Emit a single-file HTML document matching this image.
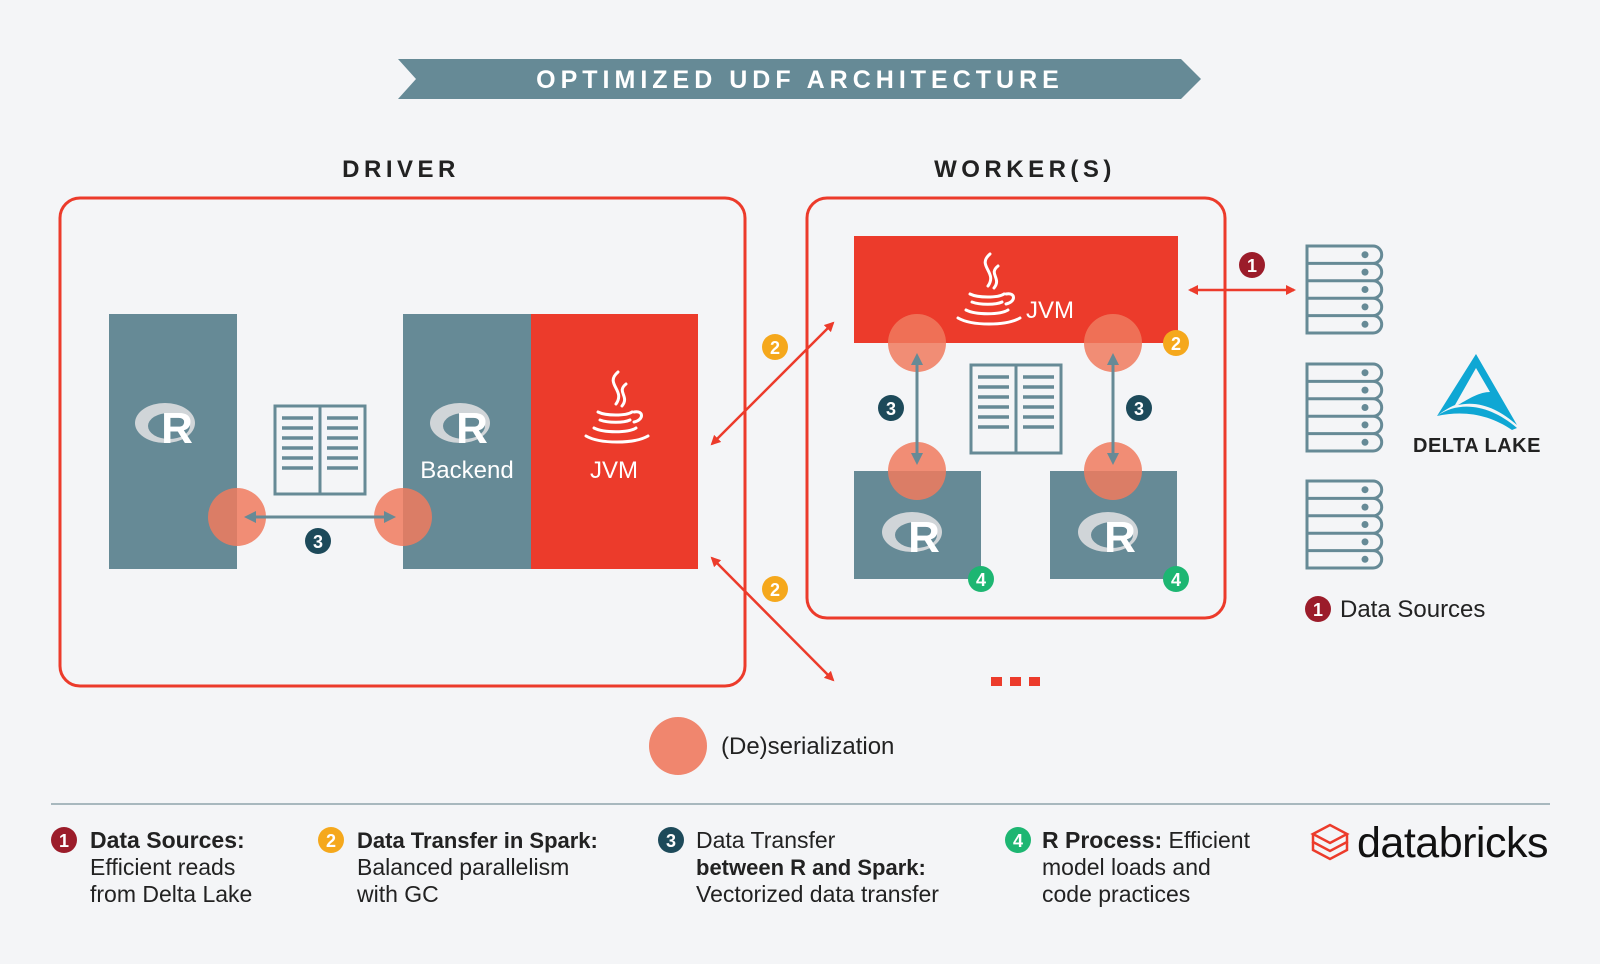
<!DOCTYPE html>
<html><head><meta charset="utf-8"><style>
html,body{margin:0;padding:0;background:#f4f5f7;}
svg{display:block;font-family:"Liberation Sans",sans-serif;}
</style></head><body>
<svg width="1600" height="964" viewBox="0 0 1600 964" xmlns="http://www.w3.org/2000/svg">
<defs>
<marker id="ar" markerWidth="10" markerHeight="10" refX="8" refY="5" orient="auto-start-reverse" markerUnits="userSpaceOnUse"><path d="M0,0 L10,5 L0,10 z" fill="#ec3b2b"/></marker>
<marker id="as" markerWidth="12" markerHeight="12" refX="9" refY="6" orient="auto-start-reverse" markerUnits="userSpaceOnUse"><path d="M0,0 L12,6 L0,12 z" fill="#668a96"/></marker>
<g id="srv" fill="none" stroke="#668a96" stroke-width="3">
<path d="M0,0 H66 a8.7,8.7 0 0 1 0,17.4 a8.7,8.7 0 0 1 0,17.4 a8.7,8.7 0 0 1 0,17.4 a8.7,8.7 0 0 1 0,17.4 a8.7,8.7 0 0 1 0,17.4 H0 Z"/>
<path d="M0,17.4 H66 M0,34.8 H66 M0,52.2 H66 M0,69.6 H66"/>
<g fill="#668a96" stroke="none"><circle cx="58" cy="8.7" r="3.5"/><circle cx="58" cy="26.1" r="3.5"/><circle cx="58" cy="43.5" r="3.5"/><circle cx="58" cy="60.9" r="3.5"/><circle cx="58" cy="78.3" r="3.5"/></g>
</g>
<g id="doc" fill="none" stroke="#668a96" stroke-width="3">
<rect x="0" y="0" width="90" height="88"/><line x1="45" y1="0" x2="45" y2="88"/>
<path d="M7,12H38M7,22H38M7,32H38M7,42H38M7,52H38M7,62H38M52,12H83M52,22H83M52,32H83M52,42H83M52,52H83M52,62H83" stroke-width="3.5"/>
</g>
<g id="rlogo">
<ellipse cx="0" cy="0" rx="30" ry="20" fill="#d0d5d8"/><ellipse cx="4" cy="3" rx="21" ry="13" fill="#668a96"/>
<text x="12" y="20" font-size="44" font-weight="bold" fill="#fff" text-anchor="middle">R</text>
</g>
<g id="java" fill="none" stroke="#fff" stroke-width="3" stroke-linecap="round">
<path d="M6,-48 c-14,12 8,18 -2,32 M14,-36 c-10,8 4,12 -4,22"/>
<path d="M-14,-8 c8,4 28,4 34,0 M-12,0 c8,3 24,3 30,0 M-18,8 c10,5 34,5 42,0 M22,-8 c10,-2 10,8 0,10"/>
<path d="M-26,16 c14,8 48,8 62,0"/>
</g>
</defs>

<polygon points="398,59 1181,59 1201,79 1181,99 398,99 416,79" fill="#668a96"/>
<text x="800" y="88" font-size="25" font-weight="bold" fill="#fff" text-anchor="middle" letter-spacing="5">OPTIMIZED UDF ARCHITECTURE</text>

<text x="401" y="177" font-size="24" font-weight="bold" fill="#222" text-anchor="middle" letter-spacing="4.5">DRIVER</text>
<text x="1025" y="177" font-size="24" font-weight="bold" fill="#222" text-anchor="middle" letter-spacing="4.5">WORKER(S)</text>

<rect x="60" y="198" width="685" height="488" rx="20" fill="none" stroke="#ec3b2b" stroke-width="3"/>
<rect x="109" y="314" width="128" height="255" fill="#668a96"/>
<use href="#rlogo" x="165" y="423"/>
<rect x="403" y="314" width="128" height="255" fill="#668a96"/>
<rect x="531" y="314" width="167" height="255" fill="#ec3b2b"/>
<use href="#rlogo" x="460" y="423"/>
<text x="467" y="478" font-size="24" fill="#fff" text-anchor="middle">Backend</text>
<use href="#java" x="612" y="420"/>
<text x="614" y="478" font-size="24" fill="#fff" text-anchor="middle">JVM</text>
<use href="#doc" x="275" y="406"/>
<circle cx="237" cy="517" r="29" fill="#f07a5e" opacity="0.85"/>
<circle cx="403" cy="517" r="29" fill="#f07a5e" opacity="0.85"/>
<line x1="247" y1="517" x2="393" y2="517" stroke="#668a96" stroke-width="3" marker-start="url(#as)" marker-end="url(#as)"/>
<circle cx="318" cy="541" r="13" fill="#1d4a5a"/><text x="318" y="548" font-size="18" font-weight="bold" fill="#fff" text-anchor="middle">3</text>

<rect x="807" y="198" width="418" height="420" rx="20" fill="none" stroke="#ec3b2b" stroke-width="3"/>
<rect x="854" y="236" width="324" height="107" fill="#ec3b2b"/>
<use href="#java" x="984" y="302"/>
<text x="1050" y="318" font-size="24" fill="#fff" text-anchor="middle">JVM</text>
<rect x="854" y="471" width="127" height="108" fill="#668a96"/>
<rect x="1050" y="471" width="127" height="108" fill="#668a96"/>
<use href="#rlogo" x="912" y="532"/>
<use href="#rlogo" x="1108" y="532"/>
<use href="#doc" x="971" y="365"/>
<circle cx="917" cy="343" r="29" fill="#f07a5e" opacity="0.85"/>
<circle cx="1113" cy="343" r="29" fill="#f07a5e" opacity="0.85"/>
<circle cx="917" cy="471" r="29" fill="#f07a5e" opacity="0.85"/>
<circle cx="1113" cy="471" r="29" fill="#f07a5e" opacity="0.85"/>
<line x1="917" y1="356" x2="917" y2="462" stroke="#668a96" stroke-width="3" marker-start="url(#as)" marker-end="url(#as)"/>
<line x1="1113" y1="356" x2="1113" y2="462" stroke="#668a96" stroke-width="3" marker-start="url(#as)" marker-end="url(#as)"/>
<circle cx="891" cy="408" r="13" fill="#1d4a5a"/><text x="891" y="415" font-size="18" font-weight="bold" fill="#fff" text-anchor="middle">3</text>
<circle cx="1139" cy="408" r="13" fill="#1d4a5a"/><text x="1139" y="415" font-size="18" font-weight="bold" fill="#fff" text-anchor="middle">3</text>
<circle cx="1176" cy="343" r="13" fill="#f5a81c"/><text x="1176" y="350" font-size="18" font-weight="bold" fill="#fff" text-anchor="middle">2</text>
<circle cx="981" cy="579" r="13" fill="#1db672"/><text x="981" y="586" font-size="18" font-weight="bold" fill="#fff" text-anchor="middle">4</text>
<circle cx="1176" cy="579" r="13" fill="#1db672"/><text x="1176" y="586" font-size="18" font-weight="bold" fill="#fff" text-anchor="middle">4</text>

<line x1="712" y1="444" x2="833" y2="323" stroke="#ec3b2b" stroke-width="2.5" marker-start="url(#ar)" marker-end="url(#ar)"/>
<line x1="712" y1="558" x2="833" y2="680" stroke="#ec3b2b" stroke-width="2.5" marker-start="url(#ar)" marker-end="url(#ar)"/>
<circle cx="775" cy="347" r="13" fill="#f5a81c"/><text x="775" y="354" font-size="18" font-weight="bold" fill="#fff" text-anchor="middle">2</text>
<circle cx="775" cy="589" r="13" fill="#f5a81c"/><text x="775" y="596" font-size="18" font-weight="bold" fill="#fff" text-anchor="middle">2</text>
<rect x="991" y="677" width="11" height="9" fill="#ec3b2b"/><rect x="1010" y="677" width="11" height="9" fill="#ec3b2b"/><rect x="1029" y="677" width="11" height="9" fill="#ec3b2b"/>

<line x1="1190" y1="290" x2="1294" y2="290" stroke="#ec3b2b" stroke-width="2.5" marker-start="url(#ar)" marker-end="url(#ar)"/>
<circle cx="1252" cy="265" r="13" fill="#9b1c2a"/><text x="1252" y="272" font-size="18" font-weight="bold" fill="#fff" text-anchor="middle">1</text>
<use href="#srv" x="1307" y="246"/>
<use href="#srv" x="1307" y="364"/>
<use href="#srv" x="1307" y="481"/>
<path d="M1476,354 L1517,425 C1500,410 1480,400 1458,405 C1470,398 1480,392 1490,392 L1476,368 L1455,405 C1448,408 1442,412 1437,416 Z" fill="#0fa7d4"/>
<path d="M1437,416 C1460,400 1490,405 1517,428 L1512,430 C1490,415 1465,410 1437,416 Z" fill="#0fa7d4"/>
<text x="1477" y="452" font-size="20" font-weight="bold" fill="#222" text-anchor="middle" letter-spacing="0.5">DELTA LAKE</text>
<circle cx="1318" cy="609" r="13" fill="#9b1c2a"/><text x="1318" y="616" font-size="18" font-weight="bold" fill="#fff" text-anchor="middle">1</text>
<text x="1340" y="617" font-size="24" fill="#222">Data Sources</text>

<circle cx="678" cy="746" r="29" fill="#f07a5e" opacity="0.9"/>
<text x="721" y="754" font-size="24" fill="#222">(De)serialization</text>
<line x1="51" y1="804" x2="1550" y2="804" stroke="#8fa4ac" stroke-width="1.5"/>

<g font-size="23" fill="#222">
<circle cx="64" cy="840" r="13" fill="#9b1c2a"/><text x="64" y="847" font-size="18" font-weight="bold" fill="#fff" text-anchor="middle">1</text>
<text x="90" y="848" font-weight="bold">Data Sources:</text>
<text x="90" y="875">Efficient reads</text><text x="90" y="902">from Delta Lake</text>
<circle cx="331" cy="840" r="13" fill="#f5a81c"/><text x="331" y="847" font-size="18" font-weight="bold" fill="#fff" text-anchor="middle">2</text>
<text x="357" y="848" font-weight="bold" font-size="22">Data Transfer in Spark:</text>
<text x="357" y="875">Balanced parallelism</text><text x="357" y="902">with GC</text>
<circle cx="671" cy="840" r="13" fill="#1d4a5a"/><text x="671" y="847" font-size="18" font-weight="bold" fill="#fff" text-anchor="middle">3</text>
<text x="696" y="848">Data Transfer</text>
<text x="696" y="875" font-weight="bold" font-size="22">between R and Spark:</text><text x="696" y="902">Vectorized data transfer</text>
<circle cx="1018" cy="840" r="13" fill="#1db672"/><text x="1018" y="847" font-size="18" font-weight="bold" fill="#fff" text-anchor="middle">4</text>
<text x="1042" y="848"><tspan font-weight="bold">R Process:</tspan> Efficient</text>
<text x="1042" y="875">model loads and</text><text x="1042" y="902">code practices</text>
</g>

<g fill="none" stroke="#ec3b2b" stroke-width="2.5">
<path d="M1313,834 L1330,825 L1347,834 L1330,843 Z"/>
<path d="M1313,834 V842 L1330,851 L1347,842 V834"/>
<path d="M1313,842 V850 L1330,859 L1347,850 V842"/>
</g>
<text x="1357" y="857" font-size="43" fill="#111" letter-spacing="-0.5">databricks</text>
</svg>
</body></html>
